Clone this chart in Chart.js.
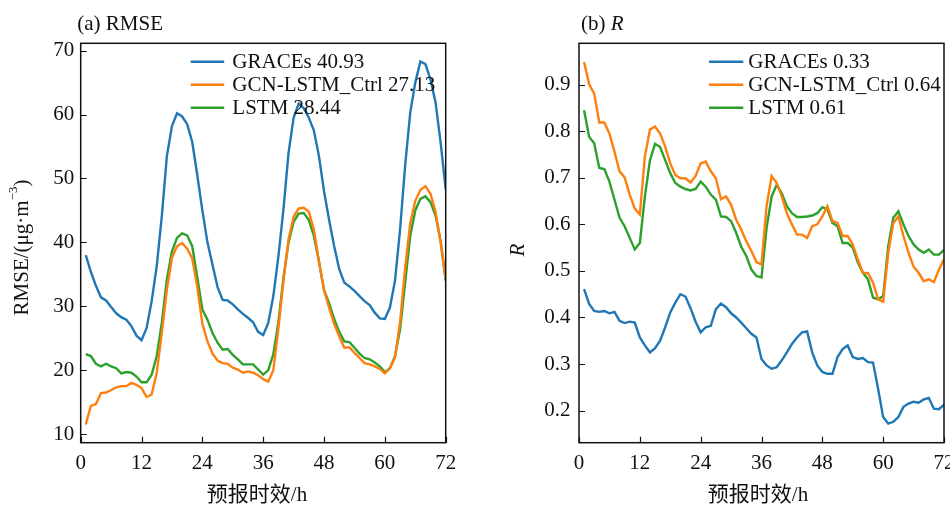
<!DOCTYPE html>
<html><head><meta charset="utf-8">
<script src="https://cdn.jsdelivr.net/npm/chart.js@4/dist/chart.umd.min.js"></script>
<style>
html,body{margin:0;padding:0;background:#fff;width:950px;height:505px;overflow:hidden}
.box{position:absolute;top:0;height:505px}
</style></head><body>
<div class="box" style="left:0;width:475px"><canvas id="c1" width="475" height="505"></canvas></div>
<div class="box" style="left:475px;width:500px"><canvas id="c2" width="500" height="505"></canvas></div>
<script>
// ---------------- data ----------------
const hours = [1,2,3,4,5,6,7,8,9,10,11,12,13,14,15,16,17,18,19,20,21,22,23,24,
  25,26,27,28,29,30,31,32,33,34,35,36,37,38,39,40,41,42,43,44,45,46,47,48,
  49,50,51,52,53,54,55,56,57,58,59,60,61,62,63,64,65,66,67,68,69,70,71,72];
const xTicks = [0,12,24,36,48,60,72];
const seriesNames = ['GRACEs','GCN-LSTM_Ctrl','LSTM'];

const rmseGRACEs = [38.0,35.4,33.2,31.4,30.9,29.9,28.9,28.3,27.9,26.9,25.4,24.7,
  26.6,30.8,36.3,44.1,53.5,58.2,60.2,59.7,58.5,55.7,50.5,45.0,
  40.0,36.5,33.0,31.0,30.9,30.3,29.5,28.8,28.2,27.5,26.0,25.5,
  27.4,31.6,37.8,45.2,54.0,59.5,61.7,61.0,59.5,57.5,53.5,48.0,
  43.5,39.4,35.8,33.7,33.1,32.4,31.6,30.8,30.2,29.0,28.1,28.0,
  29.8,34.0,42.0,52.0,60.3,65.0,68.3,67.9,65.5,61.9,55.6,48.3];
const rmseGCN = [11.5,14.4,14.7,16.4,16.5,16.9,17.3,17.5,17.5,18.0,17.7,17.2,
  15.8,16.2,19.6,25.8,32.6,37.6,39.4,39.9,39.0,37.5,33.0,27.3,
  24.5,22.6,21.5,21.1,21.0,20.4,20.1,19.6,19.8,19.6,19.2,18.6,
  18.2,20.0,26.5,34.0,40.5,44.0,45.3,45.4,44.8,42.0,37.0,32.5,
  29.8,27.2,25.3,23.5,23.6,22.7,21.9,21.1,20.9,20.6,20.2,19.5,
  20.3,22.0,27.5,36.0,43.0,46.5,48.2,48.8,47.6,44.8,40.0,34.3];
const rmseLSTM = [22.5,22.2,21.0,20.6,21.0,20.6,20.3,19.5,19.7,19.6,19.0,18.1,
  18.1,19.3,22.2,27.4,34.2,38.6,40.7,41.4,41.1,39.4,34.5,29.5,
  27.9,25.8,24.3,23.2,23.3,22.4,21.7,20.9,20.9,20.9,20.1,19.3,
  20.0,22.5,27.5,34.5,40.0,43.2,44.5,44.6,43.5,41.0,37.0,32.5,
  30.5,28.0,26.0,24.5,24.4,23.5,22.6,21.9,21.7,21.2,20.6,19.7,
  20.3,22.2,26.4,33.7,41.0,45.0,46.8,47.2,46.3,44.2,40.2,34.0];
const rmseMeans = ['40.93','27.13','28.44'];
const rmseTicks = [10,20,30,40,50,60,70];

const rGRACEs = [0.461,0.429,0.414,0.412,0.414,0.409,0.412,0.393,0.388,0.391,0.389,0.357,
  0.340,0.325,0.334,0.350,0.379,0.411,0.432,0.450,0.445,0.420,0.391,0.368,
  0.379,0.382,0.418,0.430,0.422,0.409,0.400,0.389,0.377,0.365,0.357,0.311,
  0.297,0.290,0.293,0.308,0.325,0.343,0.357,0.368,0.370,0.325,0.297,0.283,
  0.279,0.279,0.315,0.332,0.340,0.315,0.311,0.313,0.304,0.303,0.247,0.186,
  0.172,0.176,0.186,0.208,0.215,0.219,0.217,0.224,0.227,0.204,0.203,0.213];
const rGCN = [0.949,0.901,0.881,0.819,0.819,0.795,0.756,0.714,0.701,0.664,0.634,0.621,
  0.746,0.804,0.810,0.795,0.767,0.731,0.706,0.699,0.699,0.690,0.704,0.731,
  0.735,0.714,0.699,0.654,0.660,0.642,0.610,0.589,0.564,0.543,0.519,0.514,
  0.639,0.704,0.689,0.660,0.624,0.600,0.578,0.578,0.571,0.596,0.600,0.617,
  0.639,0.607,0.603,0.575,0.575,0.557,0.525,0.496,0.495,0.475,0.439,0.434,
  0.539,0.603,0.617,0.575,0.539,0.509,0.496,0.478,0.482,0.476,0.503,0.525];
const rLSTM = [0.845,0.788,0.774,0.721,0.719,0.692,0.653,0.614,0.596,0.571,0.546,0.560,
  0.660,0.738,0.773,0.766,0.738,0.710,0.689,0.681,0.676,0.673,0.676,0.692,
  0.681,0.664,0.653,0.617,0.616,0.607,0.582,0.552,0.532,0.503,0.489,0.486,
  0.592,0.660,0.685,0.667,0.639,0.624,0.616,0.616,0.617,0.619,0.624,0.637,
  0.632,0.603,0.596,0.560,0.560,0.550,0.518,0.496,0.482,0.443,0.439,0.446,
  0.553,0.614,0.628,0.600,0.575,0.557,0.546,0.539,0.546,0.535,0.535,0.545];
const rMeans = ['0.33','0.64','0.61'];
const rTicks = [0.2,0.3,0.4,0.5,0.6,0.7,0.8,0.9];

// ---------------- style ----------------
const COLORS = ['#1f77b4','#ff7f0e','#2ca02c'];
const SERIF = '"Liberation Serif","Times New Roman",serif';
const MIXED = '"Liberation Serif","Noto Sans CJK SC",serif';
const INK = '#111111';
const FS = 21;

const toXY = (vals) => hours.map((h, i) => ({x: h, y: vals[i]}));

const deco = {
  id: 'deco',
  afterDraw(chart) {
    const o = chart.options.plugins.deco;
    const {ctx, chartArea: a, scales: {x, y}} = chart;
    ctx.save();
    // inward ticks
    ctx.strokeStyle = INK; ctx.lineWidth = 1.2;
    ctx.beginPath();
    x.ticks.forEach(t => { const px = Math.round(x.getPixelForValue(t.value)) + 0.5; ctx.moveTo(px, a.bottom); ctx.lineTo(px, a.bottom - 6); });
    y.ticks.forEach(t => { const py = Math.round(y.getPixelForValue(t.value)) + 0.5; ctx.moveTo(a.left, py); ctx.lineTo(a.left + 6, py); });
    ctx.stroke();
    // frame
    ctx.lineWidth = 1.5;
    ctx.strokeRect(a.left, a.top, a.right - a.left, a.bottom - a.top);
    // legend
    ctx.textBaseline = 'middle'; ctx.textAlign = 'left';
    ctx.font = FS + 'px ' + SERIF;
    chart.data.datasets.forEach((ds, i) => {
      const yy = o.legY + i * o.legDy;
      ctx.strokeStyle = ds.borderColor; ctx.lineWidth = 2.4;
      ctx.beginPath(); ctx.moveTo(o.legX, yy); ctx.lineTo(o.legX + o.legLen, yy); ctx.stroke();
      ctx.fillStyle = INK;
      ctx.fillText(ds.label, o.legTextX, yy + 1);
    });
    // panel title
    ctx.fillStyle = INK;
    ctx.textBaseline = 'middle';
    let tx = o.titleX;
    o.title.forEach(part => {
      ctx.font = (part.italic ? 'italic ' : '') + FS + 'px ' + SERIF;
      ctx.fillText(part.t, tx, o.titleY);
      tx += ctx.measureText(part.t).width;
    });
    // x axis title
    ctx.font = FS + 'px ' + MIXED;
    ctx.textAlign = 'center';
    ctx.fillText(o.xTitle, o.xTitleX, o.xTitleY);
    // y axis title (rotated)
    ctx.save();
    ctx.translate(o.yTitleX, o.yTitleY);
    ctx.rotate(-Math.PI / 2);
    ctx.textAlign = 'left';
    let w = 0;
    o.yTitle.forEach(p => { ctx.font = (p.italic ? 'italic ' : '') + p.size + 'px ' + SERIF; w += ctx.measureText(p.t).width; });
    let px = -w / 2;
    o.yTitle.forEach(p => {
      ctx.font = (p.italic ? 'italic ' : '') + p.size + 'px ' + SERIF;
      ctx.fillText(p.t, px, (p.rise ? -p.rise : 0) + 1);
      px += ctx.measureText(p.t).width;
    });
    ctx.restore();
    ctx.restore();
  }
};

function makePanel(canvasId, cw, area, data, means, yMin, yMax, yTicks, yFmt, yPad, deco) {
  const ctx = document.getElementById(canvasId);
  return new Chart(ctx, {
    type: 'line',
    data: {
      datasets: data.map((vals, i) => ({
        label: seriesNames[i] + ' ' + means[i],
        data: toXY(vals),
        borderColor: COLORS[i],
        borderWidth: 2.4,
        pointRadius: 0,
        tension: 0,
        fill: false
      }))
    },
    options: {
      responsive: false,
      animation: false,
      devicePixelRatio: 1,
      layout: { padding: { left: 0, top: area.top, right: cw - area.right, bottom: 0 } },
      plugins: { legend: { display: false }, tooltip: { enabled: false }, deco: deco },
      scales: {
        x: {
          type: 'linear', min: 0, max: 72,
          afterBuildTicks: s => { s.ticks = xTicks.map(v => ({value: v})); },
          afterFit: s => { s.height = 505 - area.bottom; },
          grid: { display: false, drawTicks: false },
          border: { display: false },
          ticks: { padding: 8, color: INK, font: { family: SERIF, size: FS }, maxRotation: 0, autoSkip: false }
        },
        y: {
          type: 'linear', min: yMin, max: yMax,
          afterBuildTicks: s => { s.ticks = yTicks.map(v => ({value: v})); },
          afterFit: s => { s.width = area.left; },
          grid: { display: false, drawTicks: false },
          border: { display: false },
          ticks: { padding: yPad, color: INK, font: { family: SERIF, size: FS }, callback: yFmt }
        }
      }
    },
    plugins: [deco === null ? {} : window.__deco]
  });
}
window.__deco = deco;

makePanel('c1', 475, {left: 80.7, right: 445.7, top: 43.3, bottom: 442.7},
  [rmseGRACEs, rmseGCN, rmseLSTM], rmseMeans, 8.65, 71.15, rmseTicks,
  v => String(Math.round(v)), 6.5,
  { legX: 190.7, legLen: 33.5, legTextX: 232.3, legY: 61.7, legDy: 23,
    title: [{t: '(a) RMSE'}], titleX: 77.3, titleY: 24,
    xTitle: '预报时效/h', xTitleX: 257, xTitleY: 495,
    yTitle: [{t: 'RMSE/(μg·m', size: FS}, {t: '−3', size: 13, rise: 8}, {t: ')', size: FS}],
    yTitleX: 21, yTitleY: 247.5 });

makePanel('c2', 500, {left: 104, right: 469, top: 43.3, bottom: 442.7},
  [rGRACEs, rGCN, rLSTM], rMeans, 0.131, 0.989, rTicks,
  v => v.toFixed(1), 8.5,
  { legX: 234, legLen: 34.3, legTextX: 273.3, legY: 61.7, legDy: 23,
    title: [{t: '(b) '}, {t: 'R', italic: true}], titleX: 106, titleY: 24,
    xTitle: '预报时效/h', xTitleX: 283, xTitleY: 495,
    yTitle: [{t: 'R', size: FS, italic: true}],
    yTitleX: 42.7, yTitleY: 250 });
</script>
</body></html>
